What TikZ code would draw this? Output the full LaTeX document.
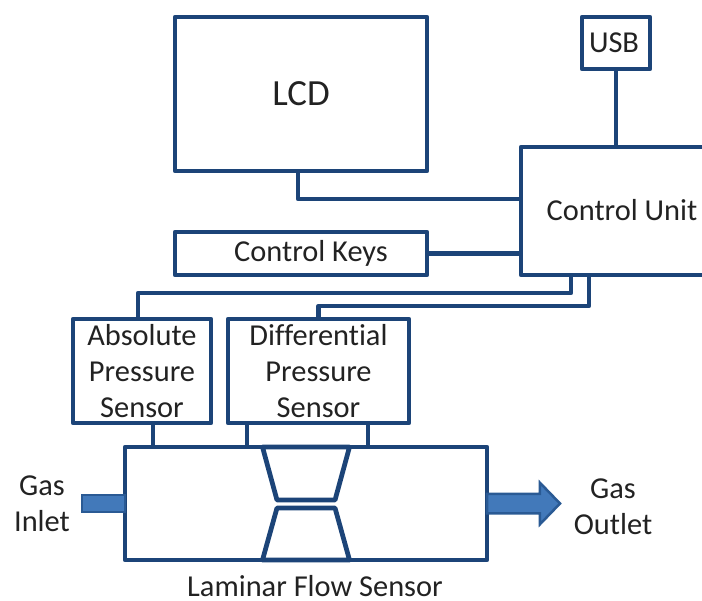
\documentclass[tikz,border=0pt]{standalone}
\usepackage{fontspec}
\setmainfont{Carlito}[Ligatures=NoCommon]
\usetikzlibrary{shapes.geometric, shapes.arrows, positioning, calc}
\definecolor{linkblue}{HTML}{1C4478}
\definecolor{flowblue}{HTML}{4279BA}
\definecolor{flowedge}{HTML}{2A5A94}
\definecolor{labelgray}{HTML}{222222}

\begin{document}
\begin{tikzpicture}[
    font=\fontsize{17.3}{20.5}\selectfont,
    text=labelgray,
    base/.style={draw=linkblue, line width=0.095cm, line join=round, outer sep=0pt, inner sep=0pt, align=center},
    block/.style={base, rectangle},
    throat/.style={base, trapezium, trapezium angle=76, trapezium stretches=true, inner sep=2pt, minimum width=1.74cm},
    link/.style={draw=linkblue, line width=0.095cm, line join=round},
    tag/.style={align=center, inner sep=0pt}
  ]
    \clip (0,0) rectangle (14.04,-12);
    \node[block, anchor=north west, minimum width=5.04cm, minimum height=3.08cm, font=\fontsize{21}{24}\selectfont] (lcd) at (3.5,-0.34) {LCD};
    \node[block, below=1.22cm of lcd, minimum width=5.04cm, minimum height=0.86cm] (keys) {\hspace*{0.4cm}Control Keys};
    \node[block, below right=2.6cm and 1.88cm of lcd.north east, anchor=north west, minimum width=4.04cm, minimum height=2.56cm] (cu) {\raisebox{0.05cm}{Control Unit}};
    \node[block, above right=1.56cm and 1.22cm of cu.north west, anchor=south west, minimum width=1.36cm, minimum height=1.04cm] (usb) {\hspace*{-0.08cm}USB};
    \node[block, below left=0.88cm and 2.04cm of keys.south west, anchor=north west, minimum width=2.76cm, minimum height=2.08cm] (abs) {Absolute\\Pressure\\Sensor};
    \node[block, right=0.34cm of abs, minimum width=3.62cm, minimum height=2.08cm] (diff) {Differential\\Pressure\\Sensor};
    \node[block, below right=0.48cm and 1.04cm of abs.south west, anchor=north west, minimum width=7.24cm, minimum height=2.26cm] (lam) {};
    \node[throat, shape border rotate=180, minimum height=1.06cm, below=0cm of lam.north, anchor=north] (upper) {};
    \node[throat, minimum height=1.04cm, above=0cm of lam.south, anchor=south] (lower) {};
    \node[rectangle, draw=flowedge, fill=flowblue, line width=0.05cm, outer sep=0pt, minimum width=0.86cm, minimum height=0.34cm, left=0cm of lam.west, anchor=east] (inlet) {};
    \node[single arrow, draw=flowedge, fill=flowblue, line width=0.05cm, outer sep=0pt, inner sep=0.17cm, minimum height=1.46cm, minimum width=0.78cm, single arrow head extend=0.22cm, single arrow tip angle=92, anchor=tail] (outlet) at (lam.east) {};
    \node[tag, left=0.8cm of inlet.west, anchor=center] (inlettag) {Gas\\Inlet};
    \node[tag, right=1.06cm of outlet.tip, anchor=center, yshift=-0.06cm] (outlettag) {Gas\\Outlet};
    \node[inner sep=0pt, below=0.52cm of lam.south, anchor=center, xshift=0.18cm] (lamtag) {Laminar Flow Sensor};
    \draw[link] (usb.south) -- (usb.south |- cu.north);
    \draw[link] ([xshift=-0.06cm]lcd.south) |- ([yshift=0.24cm]cu.west);
    \draw[link] (keys.east) -- (keys.east -| cu.west);
    \draw[link] ([xshift=1cm]cu.south west) -- ++(0,-0.36) -| ([xshift=-0.08cm]abs.north);
    \draw[link] ([xshift=1.36cm]cu.south west) -- ++(0,-0.62) -| (diff.north);
    \draw[link] ([xshift=0.22cm]abs.south) -- ([xshift=0.22cm]abs.south |- lam.north);
    \draw[link] ([xshift=-1.43cm]diff.south) -- ([xshift=-1.43cm]diff.south |- lam.north);
    \draw[link] ([xshift=0.99cm]diff.south) -- ([xshift=0.99cm]diff.south |- lam.north);
  \end{tikzpicture}
\end{document}
